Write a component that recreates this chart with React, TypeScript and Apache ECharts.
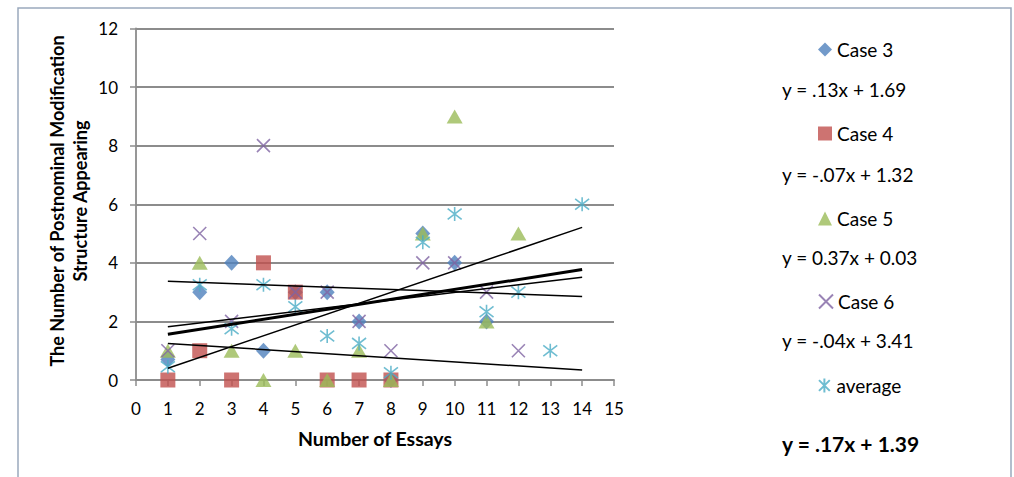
import React, { useEffect, useRef } from "react";
import * as echarts from "echarts";

// ---- data ----
const case3X = [1, 2, 3, 4, 5, 6, 7, 8, 9, 10, 11];
const case3Y = [0.7, 3, 4, 1, 3, 3, 2, 0, 5, 4, 2];
const case4X = [1, 2, 3, 4, 5, 6, 7, 8];
const case4Y = [0, 1, 0, 4, 3, 0, 0, 0];
const case5X = [1, 2, 3, 4, 5, 6, 7, 8, 9, 10, 11, 12];
const case5Y = [1, 4, 1, 0, 1, 0, 1, 0, 5, 9, 2, 5];
const case6X = [1, 2, 3, 4, 5, 6, 7, 8, 9, 10, 11, 12];
const case6Y = [1, 5, 2, 8, 3, 3, 2, 1, 4, 4, 3, 1];
const avgX = [1, 2, 3, 4, 5, 6, 7, 8, 9, 10, 11, 12, 13, 14];
const avgY = [0.45, 3.25, 1.75, 3.25, 2.5, 1.5, 1.25, 0.25, 4.7, 5.67, 2.33, 3, 1, 6];

const seriesNames = ["Case 3", "Case 4", "Case 5", "Case 6", "average"];
const trendNames = [
  "y = .13x + 1.69",
  "y = -.07x + 1.32",
  "y = 0.37x + 0.03",
  "y = -.04x + 3.41",
  "y = .17x + 1.39",
];
const trendSlopes = [0.13, -0.07, 0.37, -0.04, 0.17];
const trendIntercepts = [1.69, 1.32, 0.03, 3.41, 1.39];
const trendRange = [1, 14];

const xAxisTitle = "Number of Essays";
const yAxisTitle = "The Number of Postnominal Modification\nStructure Appearing";

// ---- styles ----
const colors = ["#4F81BD", "#C0504D", "#9BBB59", "#8064A2", "#4BACC6"];
const FONT = "Lato";
const GRAY = "#8c8c8c";

const zip = (xs: number[], ys: number[]) => xs.map((x, i) => [x, ys[i]]);

export default function App() {
  const ref = useRef<HTMLDivElement>(null);

  useEffect(() => {
    document.body.style.margin = "0";
    if (!ref.current) return;
    const chart = echarts.init(ref.current, undefined, { renderer: "svg" });

    const scatterData = [
      zip(case3X, case3Y),
      zip(case4X, case4Y),
      zip(case5X, case5Y),
      zip(case6X, case6Y),
      zip(avgX, avgY),
    ];
    const symbols: any[] = [
      "diamond",
      "rect",
      "triangle",
      "path://M0,0L10,10M10,0L0,10",
      "path://M0,0L10,10M10,0L0,10M5,-1.5L5,11.5",
    ];
    const sizes: any[] = [[15, 16], 15, [16, 14], 13, 14];

    const scatterSeries = scatterData.map((d, i) => {
      const stroked = i >= 3;
      return {
        type: "scatter",
        name: seriesNames[i],
        data: d,
        symbol: symbols[i],
        symbolSize: sizes[i],
        z: 2,
        itemStyle: stroked
          ? { color: "rgba(0,0,0,0)", borderColor: colors[i], borderWidth: 1.6 }
          : { color: colors[i] },
      };
    });

    const trendSeries = trendNames.map((name, i) => ({
      type: "line",
      name,
      data: trendRange.map((x) => [x, trendSlopes[i] * x + trendIntercepts[i]]),
      showSymbol: false,
      symbol: "none",
      silent: true,
      z: 3,
      lineStyle: { color: "#000", width: i === 4 ? 3 : 1.5 },
    }));

    const legendItems: { name: string; top: number; eq: boolean; bold?: boolean }[] = [
      { name: seriesNames[0], top: 47, eq: false },
      { name: trendNames[0], top: 87, eq: true },
      { name: seriesNames[1], top: 131, eq: false },
      { name: trendNames[1], top: 172, eq: true },
      { name: seriesNames[2], top: 216, eq: false },
      { name: trendNames[2], top: 255, eq: true },
      { name: seriesNames[3], top: 299, eq: false },
      { name: trendNames[3], top: 338, eq: true },
      { name: seriesNames[4], top: 383, eq: false },
      { name: trendNames[4], top: 440, eq: true, bold: true },
    ];

    const legends = legendItems.map((it) => ({
      data: [it.eq ? { name: it.name, icon: "none" } : { name: it.name }],
      left: it.eq ? 777 : 818,
      top: it.top - 7,
      padding: 0,
      itemGap: 0,
      itemWidth: it.eq ? 0 : 14,
      itemHeight: 14,
      selectedMode: false,
      textStyle: {
        fontFamily: FONT,
        fontSize: it.bold ? 21 : 19,
        fontWeight: it.bold ? "bold" : "normal",
        color: "#000",
      },
    }));

    chart.setOption({
      animation: false,
      backgroundColor: "#fff",
      grid: { left: 136, right: 400, top: 28.5, bottom: 97, containLabel: false },
      xAxis: {
        type: "value",
        min: 0,
        max: 15,
        interval: 1,
        axisLine: { show: true, lineStyle: { color: GRAY, width: 1.8 } },
        axisTick: { show: true, length: 6, lineStyle: { color: GRAY, width: 1.5 } },
        axisLabel: { margin: 20, fontFamily: FONT, fontSize: 17, color: "#000" },
        splitLine: { show: false },
      },
      yAxis: {
        type: "value",
        min: 0,
        max: 12,
        interval: 2,
        axisLine: { show: true, lineStyle: { color: GRAY, width: 1.8 } },
        axisTick: { show: true, length: 6, lineStyle: { color: GRAY, width: 1.5 } },
        axisLabel: { margin: 18, fontFamily: FONT, fontSize: 17, color: "#000" },
        splitLine: { show: true, lineStyle: { color: GRAY, width: 1.8 } },
      },
      legend: legends,
      graphic: [
        {
          type: "rect",
          shape: { x: 18, y: 8, width: 993, height: 500 },
          style: { fill: "none", stroke: "#9aa9bd", lineWidth: 1.5 },
          silent: true,
        },
        {
          type: "text",
          x: 375,
          y: 438,
          style: {
            text: xAxisTitle,
            fontFamily: FONT,
            fontSize: 19.5,
            fontWeight: "bold",
            fill: "#000",
            align: "center",
            verticalAlign: "middle",
          },
        },
        {
          type: "text",
          x: 68,
          y: 201,
          rotation: Math.PI / 2,
          style: {
            text: yAxisTitle,
            fontFamily: FONT,
            fontSize: 18,
            fontWeight: "bold",
            lineHeight: 23,
            fill: "#000",
            align: "center",
            verticalAlign: "middle",
          },
        },
      ],
      series: [...scatterSeries, ...trendSeries],
    });

    return () => chart.dispose();
  }, []);

  return <div ref={ref} style={{ width: 1014, height: 477 }} />;
}
